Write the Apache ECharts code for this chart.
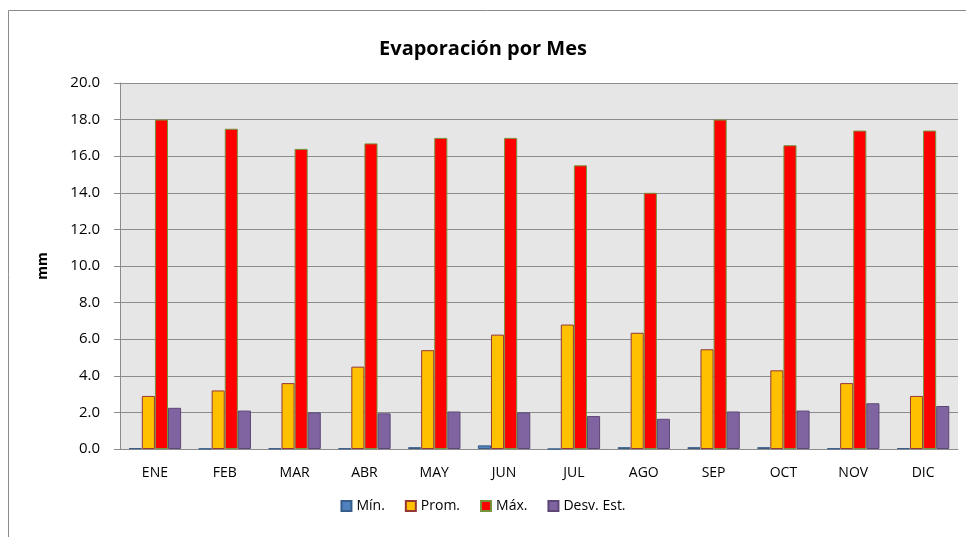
<!DOCTYPE html>
<html><head><meta charset="utf-8">
<script src="https://cdn.jsdelivr.net/npm/echarts@6/dist/echarts.min.js"></script>
<style>html,body{margin:0;padding:0;background:#fff}#c{width:966px;height:537px}</style>
</head><body><div id="c"></div>
<script>
const categories = ['ENE','FEB','MAR','ABR','MAY','JUN','JUL','AGO','SEP','OCT','NOV','DIC'];
const minVals = [0.05,0.02,0.03,0.03,0.1,0.2,0.0,0.1,0.1,0.1,0.03,0.05];
const promVals = [2.9,3.2,3.6,4.5,5.4,6.25,6.8,6.35,5.45,4.3,3.6,2.9];
const maxVals = [18.0,17.5,16.4,16.7,17.0,17.0,15.5,14.0,18.0,16.6,17.4,17.4];
const desvVals = [2.25,2.1,2.0,1.95,2.05,2.0,1.8,1.65,2.05,2.1,2.5,2.35];
const seriesNames = ['Mín.','Prom.','Máx.','Desv. Est.'];
const font = 'Open Sans, Noto Sans, sans-serif';
const chart = echarts.init(document.getElementById('c'));
function bar(name, data, color, border){
  return {name, type:'bar', data, barGap:'0%', barCategoryGap:'25%',
    itemStyle:{color, borderColor:border, borderWidth:1}};
}
chart.setOption({
  animation:false,
  textStyle:{fontFamily:font},
  graphic:[{type:'rect', shape:{x:8.5,y:10.5,width:1000,height:600}, style:{fill:'none',stroke:'#8c8c8c',lineWidth:1}, z:-10}],
  title:{text:'Evaporación por Mes', left:'center', top:34, textStyle:{fontFamily:font,fontSize:20,fontWeight:'bold',color:'#000'}},
  grid:{left:120, right:8, top:83, bottom:88, backgroundColor:'#e6e6e6', show:true, borderWidth:0},
  legend:{bottom:19, left:'center', itemWidth:10, itemHeight:10, itemGap:20, icon:'rect',
    textStyle:{fontFamily:font,fontSize:14,color:'#000'}, data:seriesNames},
  xAxis:{type:'category', data:categories, axisTick:{show:false},
    axisLine:{lineStyle:{color:'#8c8c8c'}},
    axisLabel:{fontFamily:font,fontSize:14,color:'#000',margin:17}},
  yAxis:{type:'value', min:0, max:20, interval:2, name:'mm', nameLocation:'middle', nameGap:70,
    nameTextStyle:{fontFamily:font,fontSize:14,fontWeight:'bold',color:'#000'},
    axisLine:{show:true,lineStyle:{color:'#8c8c8c'}},
    axisTick:{show:true,length:6,lineStyle:{color:'#8c8c8c'}},
    splitLine:{lineStyle:{color:'#8c8c8c'}},
    axisLabel:{fontFamily:font,fontSize:15,color:'#000',margin:20,formatter:v=>v.toFixed(1)}},
  series:[
    bar(seriesNames[0], minVals, '#4f81bd', '#385d8a'),
    bar(seriesNames[1], promVals, '#ffc000', '#953735'),
    bar(seriesNames[2], maxVals, '#ff0000', '#77933c'),
    bar(seriesNames[3], desvVals, '#8064a2', '#5c4776')
  ]
});
</script></body></html>
